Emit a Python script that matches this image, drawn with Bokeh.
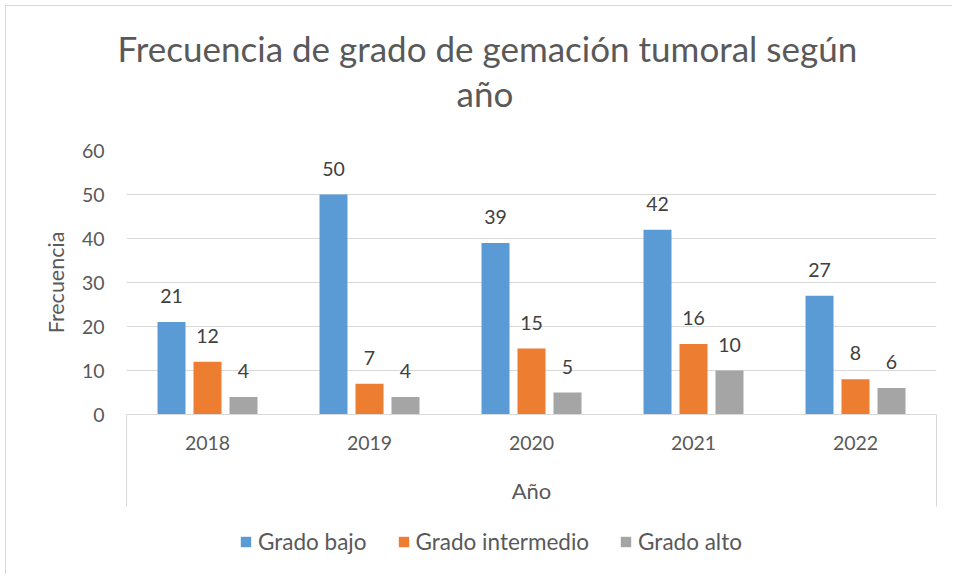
from bokeh.plotting import figure
from bokeh.layouts import column
from bokeh.models import (ColumnDataSource, Range1d, FixedTicker, Title, Legend,
                          LegendItem)
from bokeh.transform import dodge
from bokeh.core.properties import value
from bokeh.embed import file_html
from bokeh.resources import INLINE

years = ["2018", "2019", "2020", "2021", "2022"]
series_names = ["Grado bajo", "Grado intermedio", "Grado alto"]
grado_bajo = [21, 50, 39, 42, 27]
grado_intermedio = [12, 7, 15, 16, 8]
grado_alto = [4, 4, 5, 10, 6]
y_ticks = [0, 10, 20, 30, 40, 50, 60]
colors = ["#5B9BD5", "#ED7D31", "#A5A5A5"]
title_lines = ["Frecuencia de grado de gemación tumoral según", "año"]

FONT = "Lato"
TEXT = "#595959"
GRID = "#D9D9D9"

centers = [i + 0.5 for i in range(len(years))]
src = ColumnDataSource(dict(x=centers, bajo=grado_bajo, inter=grado_intermedio,
                            alto=grado_alto,
                            bajo_t=[str(v) for v in grado_bajo],
                            inter_t=[str(v) for v in grado_intermedio],
                            alto_t=[str(v) for v in grado_alto]))

p = figure(width=946, height=520, output_backend="svg", toolbar_location=None,
           x_range=Range1d(0, len(years)), y_range=Range1d(0, 60),
           min_border_left=120, min_border_right=16, min_border_top=144,
           min_border_bottom=112)
p.outline_line_color = None
p.background_fill_color = "white"
p.border_fill_color = "white"

offs = [-0.2222, 0.0, 0.2222]
cols = ["bajo", "inter", "alto"]
bw = 0.1728
for name, col, off, c in zip(series_names, cols, offs, colors):
    p.vbar(x=dodge("x", off, range=p.x_range), top=col, width=bw, source=src,
           fill_color=c, line_color=None)
    p.text(x=dodge("x", off, range=p.x_range), y=col, text=col + "_t", source=src,
           text_align="center", text_baseline="alphabetic", y_offset=-26,
           text_font=value(FONT), text_font_size="19.5px", text_color="#404040")

# axes
p.xaxis.ticker = FixedTicker(ticks=centers, minor_ticks=[0, len(years)])
p.xaxis.major_label_overrides = {c: y for c, y in zip(centers, years)}
p.xaxis.major_tick_line_color = None
p.xaxis.major_tick_out = 0
p.xaxis.major_tick_in = 0
p.xaxis.minor_tick_line_color = GRID
p.xaxis.minor_tick_out = 92
p.xaxis.minor_tick_in = 0
p.xaxis.axis_line_color = GRID
p.xaxis.major_label_standoff = -71
p.xaxis.major_label_text_font = FONT
p.xaxis.major_label_text_font_size = "19.5px"
p.xaxis.major_label_text_color = TEXT
p.xaxis.axis_label = "Año"
p.xaxis.axis_label_text_font = FONT
p.xaxis.axis_label_text_font_size = "22px"
p.xaxis.axis_label_text_font_style = "normal"
p.xaxis.axis_label_text_color = TEXT
p.xaxis.axis_label_standoff = 24

p.yaxis.ticker = FixedTicker(ticks=y_ticks)
p.yaxis.axis_line_color = None
p.yaxis.major_tick_line_color = None
p.yaxis.minor_tick_line_color = None
p.yaxis.major_tick_out = 0
p.yaxis.major_tick_in = 0
p.yaxis.major_label_standoff = 22
p.yaxis.major_label_text_font = FONT
p.yaxis.major_label_text_font_size = "19.5px"
p.yaxis.major_label_text_color = TEXT
p.yaxis.axis_label = "Frecuencia"
p.yaxis.axis_label_text_font = FONT
p.yaxis.axis_label_text_font_size = "21.5px"
p.yaxis.axis_label_text_font_style = "normal"
p.yaxis.axis_label_text_color = TEXT
p.yaxis.axis_label_standoff = 10

p.xgrid.grid_line_color = None
p.ygrid.grid_line_color = GRID
p.ygrid.grid_line_width = 1

# title (two lines, stacked above the frame)
p.title.text = ""
p.add_layout(Title(text=title_lines[1], align="left", offset=330, text_font=FONT,
                   text_font_size="35px", text_font_style="normal",
                   text_color=TEXT, standoff=73), "above")
p.add_layout(Title(text=title_lines[0], align="left", offset=-9, text_font=FONT,
                   text_font_size="35px", text_font_style="normal",
                   text_color=TEXT, standoff=-71), "above")

# legend strip below the chart (frames are aligned with the chart above)
leg = figure(width=946, height=48, output_backend="svg", toolbar_location=None,
             x_range=Range1d(0, 810), y_range=Range1d(0, 48),
             x_axis_location=None, y_axis_location=None, min_border=0)
leg.outline_line_color = None
leg.background_fill_color = "white"
leg.border_fill_color = "white"
leg.grid.visible = False
# zero-height proxy bars, only used to draw the legend swatches
proxy = ColumnDataSource(dict(x=[0], top=[0]))
leg_renderers = [leg.vbar(x="x", top="top", width=0, source=proxy, fill_color=c,
                          line_color=None) for c in colors]
legend = Legend(items=[LegendItem(label=n, renderers=[r]) for n, r in zip(series_names, leg_renderers)],
                orientation="horizontal", location=(113, 19),
                glyph_width=13, glyph_height=13, label_standoff=6, spacing=30,
                padding=0, margin=0, label_text_font=FONT, label_text_font_size="22.5px",
                label_text_color=TEXT, background_fill_alpha=0, border_line_color=None,
                label_height=24)
leg.add_layout(legend, "center")

layout = column(p, leg, spacing=0)
layout.styles = {"border-top": "1px solid #D9D9D9", "border-left": "1px solid #D9D9D9",
                 "margin-left": "5px", "margin-top": "5px"}

open("out.html", "w").write(file_html(layout, INLINE))
